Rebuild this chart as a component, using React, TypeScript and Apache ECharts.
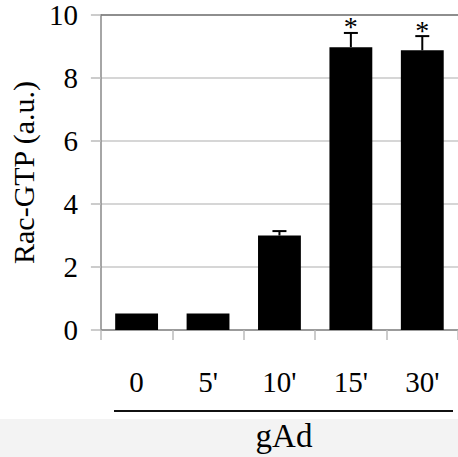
import React, { useEffect, useRef } from "react";
import * as echarts from "echarts";

const categories = ["0", "5'", "10'", "15'", "30'"];
const values = [0.52, 0.52, 3.0, 8.98, 8.88];
const errors = [0, 0, 0.14, 0.45, 0.45];
const marks = ["", "", "", "*", "*"];
const yTitle = "Rac-GTP (a.u.)";
const groupLabel = "gAd";

const FONT = "Liberation Serif";

export default function App() {
  const ref = useRef<HTMLDivElement>(null);
  useEffect(() => {
    document.body.style.margin = "0";
    const chart = echarts.init(ref.current!, null, { renderer: "svg" });
    const errData = values.map((v, i) => [i, v, errors[i]]);
    chart.setOption({
      animation: false,
      backgroundColor: "#ffffff",
      textStyle: { fontFamily: FONT, color: "#000" },
      grid: { left: 98, top: 15, width: 365, height: 315, containLabel: false },
      xAxis: [
        {
          type: "category",
          data: categories,
          axisLine: { show: true, lineStyle: { color: "#888", width: 1.5 } },
          axisTick: { show: true, alignWithLabel: false, length: 10, lineStyle: { color: "#bbb", width: 1.5 } },
          axisLabel: { fontFamily: FONT, fontSize: 29, color: "#000", margin: 37, lineHeight: 29 },
        },
        {
          type: "category",
          data: categories,
          position: "top",
          axisLine: { show: true, lineStyle: { color: "#777", width: 1.5 } },
          axisTick: { show: false },
          axisLabel: { show: false },
        },
      ],
      yAxis: {
        type: "value",
        min: 0,
        max: 10,
        interval: 2,
        name: yTitle,
        nameLocation: "middle",
        nameGap: 52,
        nameRotate: 90,
        nameTextStyle: { fontFamily: FONT, fontSize: 30, color: "#000" },
        axisLine: { show: true, lineStyle: { color: "#888", width: 1.5 } },
        axisTick: { show: true, length: 10, lineStyle: { color: "#bbb", width: 1.5 } },
        splitLine: { show: true, lineStyle: { color: "#c8c8c8", width: 1.5 } },
        axisLabel: { fontFamily: FONT, fontSize: 29, color: "#000", margin: 23 },
      },
      graphic: [
        { type: "rect", z: -10, shape: { x: 0, y: 419, width: 458, height: 40 }, style: { fill: "#f3f3f3" } },
        { type: "line", shape: { x1: 114, y1: 411, x2: 453, y2: 411 }, style: { stroke: "#111", lineWidth: 2 } },
        {
          type: "text",
          x: 284,
          y: 436,
          style: { text: groupLabel, fontFamily: FONT, fontSize: 33, fill: "#000", textAlign: "center", textVerticalAlign: "middle" },
        },
      ],
      series: [
        {
          type: "bar",
          data: values,
          barCategoryGap: "40%",
          itemStyle: { color: "#000" },
        },
        {
          type: "custom",
          data: errData,
          z: 5,
          renderItem: (params: any, api: any) => {
            const i = api.value(0);
            const v = api.value(1);
            const e = api.value(2);
            const m = marks[params.dataIndex];
            const p0 = api.coord([i, v]);
            const p1 = api.coord([i, v + e]);
            const children: any[] = [];
            if (e > 0) {
              children.push({
                type: "line",
                shape: { x1: p0[0], y1: p0[1], x2: p1[0], y2: p1[1] },
                style: { stroke: "#000", lineWidth: 2 },
              });
              children.push({
                type: "line",
                shape: { x1: p1[0] - 7, y1: p1[1], x2: p1[0] + 7, y2: p1[1] },
                style: { stroke: "#000", lineWidth: 2 },
              });
            }
            if (m) {
              children.push({
                type: "text",
                x: p1[0],
                y: p1[1] - 6,
                style: { text: m, fontFamily: FONT, fontSize: 28, fill: "#000", textAlign: "center", textVerticalAlign: "middle" },
              });
            }
            return { type: "group", children };
          },
        },
      ],
    });
    return () => chart.dispose();
  }, []);
  return <div ref={ref} style={{ width: 458, height: 457 }} />;
}
